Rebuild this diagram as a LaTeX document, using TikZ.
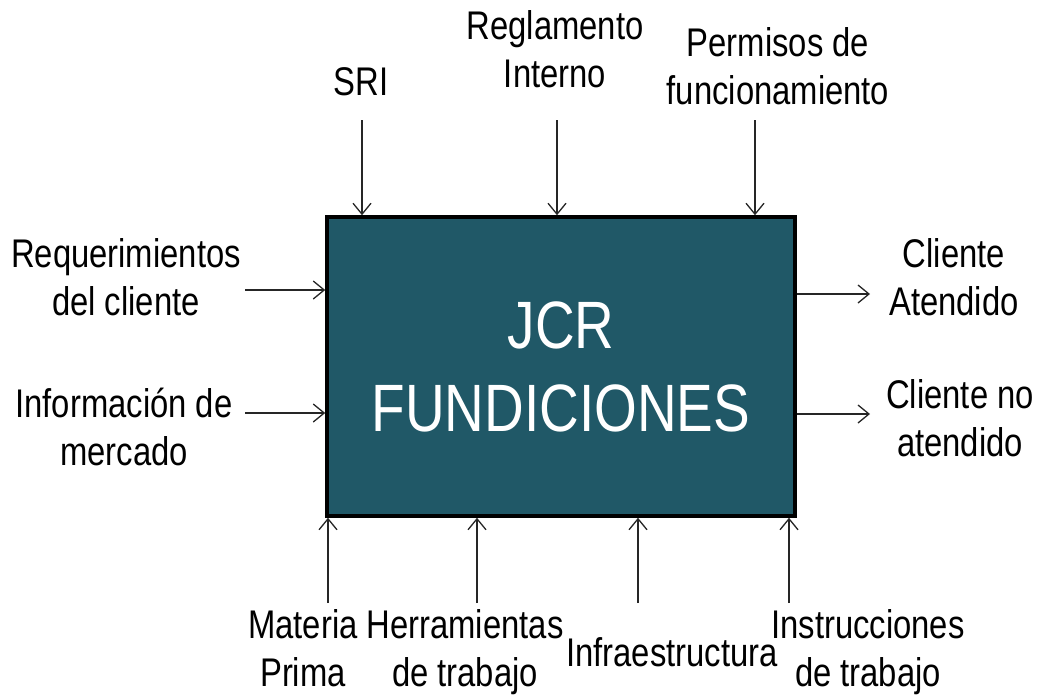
\documentclass[tikz,border=0pt]{standalone}
\usepackage{fontspec}
\setmainfont{Liberation Sans}
\newfontfamily\narrowfont{Liberation Sans}[FakeStretch=0.82]
\usetikzlibrary{arrows.meta}
\definecolor{boxteal}{HTML}{205867}

\begin{document}
\begin{tikzpicture}[x = 1pt, y = -1pt]
	\useasboundingbox (0, 0) rectangle (1038, 694);

	% Styles for the labels and the arrows
	\tikzset{lbl/.style = {align = center, inner sep = 0pt, anchor = base, font = \narrowfont\fontsize{40}{48}\selectfont}}
	\tikzset{flow/.style = {-{Straight Barb[length = 11pt, width = 18pt]}, line width = 1.3pt, draw = black!85}}

	% Central process box
	\node[draw, line width = 3.5pt, fill = boxteal, text = white, minimum width = 468, minimum height = 299, align = center, font = \narrowfont\fontsize{67}{83}\selectfont] (proc) at (561, 366.5) {JCR\\FUNDICIONES};

	% Controls on top (base = last line)
	\node[lbl] (sri) at (361, 95) {SRI};
	\node[lbl] (regl) at (555, 87) {Reglamento\\Interno};
	\node[lbl] (perm) at (778, 104) {Permisos de\\funcionamiento};

	% Inputs on the left
	\node[lbl] (req) at (126, 315) {Requerimientos\\del cliente};
	\node[lbl] (info) at (124, 465) {Información de\\mercado};

	% Outputs on the right
	\node[lbl] (atn) at (954, 315) {Cliente\\Atendido};
	\node[lbl] (noat) at (960, 456) {Cliente no\\atendido};

	% Mechanisms at the bottom
	\node[lbl] (mat) at (303, 686) {Materia\\Prima};
	\node[lbl] (herr) at (465, 686) {Herramientas\\de trabajo};
	\node[lbl] (infra) at (672, 666) {Infraestructura};
	\node[lbl] (instr) at (868, 686) {Instrucciones\\de trabajo};

	% Free ends of the arrows
	\coordinate (sriT) at (362, 120);
	\coordinate (reglT) at (557, 120);
	\coordinate (permT) at (755, 120);
	\coordinate (reqL) at (245, 290);
	\coordinate (infoL) at (245, 413);
	\coordinate (atnR) at (870, 294);
	\coordinate (noatR) at (870, 414);
	\coordinate (matB) at (328, 603);
	\coordinate (herrB) at (477, 603);
	\coordinate (infraB) at (638, 603);
	\coordinate (instrB) at (789, 603);

	% Draw the arrows
	\draw[flow] (sriT) -- (sriT |- proc.north);
	\draw[flow] (reglT) -- (reglT |- proc.north);
	\draw[flow] (permT) -- (permT |- proc.north);
	\draw[flow] (reqL) -- (reqL -| proc.west);
	\draw[flow] (infoL) -- (infoL -| proc.west);
	\draw[flow] (atnR -| proc.east) -- (atnR);
	\draw[flow] (noatR -| proc.east) -- (noatR);
	\draw[flow] (matB) -- (matB |- proc.south);
	\draw[flow] (herrB) -- (herrB |- proc.south);
	\draw[flow] (infraB) -- (infraB |- proc.south);
	\draw[flow] (instrB) -- (instrB |- proc.south);
\end{tikzpicture}
\end{document}
